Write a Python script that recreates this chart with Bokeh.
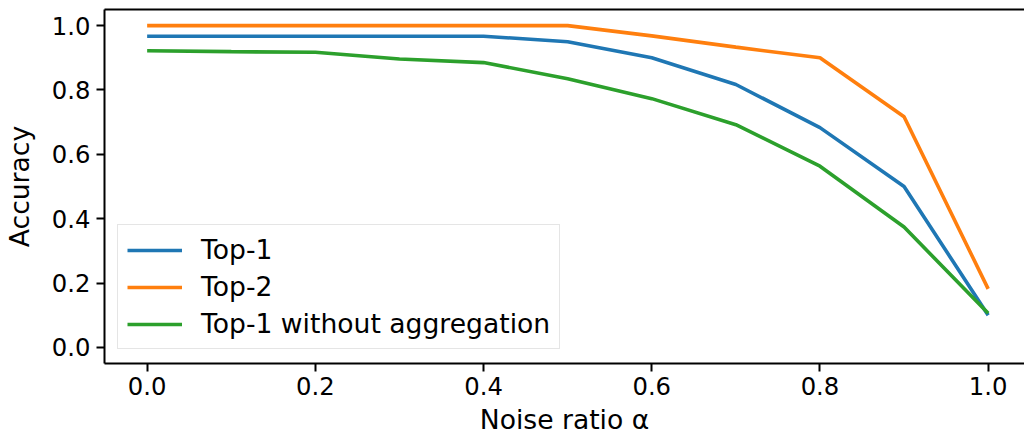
from bokeh.plotting import figure
from bokeh.models import LinearAxis, FixedTicker, Legend, LegendItem, Range1d
from bokeh.embed import file_html
from bokeh.resources import INLINE

# ---- data ----
noise_ratio = [0.0, 0.1, 0.2, 0.3, 0.4, 0.5, 0.6, 0.7, 0.8, 0.9, 1.0]
top1 = [0.967, 0.967, 0.967, 0.967, 0.967, 0.950, 0.900, 0.817, 0.683, 0.500, 0.100]
top2 = [1.000, 1.000, 1.000, 1.000, 1.000, 1.000, 0.968, 0.933, 0.900, 0.717, 0.182]
top1_no_agg = [0.922, 0.919, 0.917, 0.896, 0.885, 0.835, 0.773, 0.692, 0.563, 0.374, 0.106]

series_names = ["Top-1", "Top-2", "Top-1 without aggregation"]
series_colors = ["#1f77b4", "#ff7f0e", "#2ca02c"]

x_ticks = [0.0, 0.2, 0.4, 0.6, 0.8, 1.0]
x_tick_labels = ["0.0", "0.2", "0.4", "0.6", "0.8", "1.0"]
y_ticks = [0.0, 0.2, 0.4, 0.6, 0.8, 1.0]
y_tick_labels = ["0.0", "0.2", "0.4", "0.6", "0.8", "1.0"]
x_label_text = "Noise ratio \u03b1"
y_label_text = "Accuracy"

FONT = "DejaVu Sans"
TICK_FS = "24.3px"
LABEL_FS = "26.6px"

p = figure(width=1024, height=437, output_backend="svg", toolbar_location=None,
           x_range=Range1d(-0.0507, 1.0432), y_range=Range1d(-0.05, 1.05),
           x_axis_label=x_label_text, y_axis_label=y_label_text)
p.min_border_left = 103
p.min_border_right = 0
p.min_border_top = 9
p.min_border_bottom = 74
p.outline_line_color = None
p.background_fill_color = "white"
p.border_fill_color = "white"
p.xgrid.visible = False
p.ygrid.visible = False

renderers = []
for ys, name, col in zip([top1, top2, top1_no_agg], series_names, series_colors):
    r = p.line(noise_ratio, ys, line_color=col, line_width=3.6)
    renderers.append(r)

for ax, ticks, labels in [(p.xaxis[0], x_ticks, x_tick_labels), (p.yaxis[0], y_ticks, y_tick_labels)]:
    ax.ticker = FixedTicker(ticks=ticks)
    ax.major_label_overrides = {t: l for t, l in zip(ticks, labels)}
    ax.minor_tick_line_color = None
    ax.major_tick_in = 0
    ax.major_tick_out = 8
    ax.major_tick_line_width = 2
    ax.major_tick_line_color = "black"
    ax.axis_line_width = 2
    ax.axis_line_color = "black"
    ax.major_label_text_font = FONT
    ax.major_label_text_font_size = TICK_FS
    ax.major_label_text_color = "black"
    ax.axis_label_text_font = FONT
    ax.axis_label_text_font_size = LABEL_FS
    ax.axis_label_text_font_style = "normal"
    ax.axis_label_text_color = "black"
    ax.major_label_standoff = 6

p.yaxis[0].axis_label_standoff = 14
p.xaxis[0].major_label_standoff = 5
p.xaxis[0].axis_label_standoff = 6
p.xaxis[0].axis_label_text_line_height = 0.6

top = LinearAxis(ticker=FixedTicker(ticks=[]), major_tick_out=0, major_tick_in=0,
                 minor_tick_line_color=None, major_label_standoff=0,
                 axis_line_width=2, axis_line_color="black",
                 major_label_text_font_size="0px")
p.add_layout(top, "above")

legend = Legend(items=[LegendItem(label=n, renderers=[r]) for n, r in zip(series_names, renderers)],
                location=(13, 14), label_text_font=FONT, label_text_font_size=LABEL_FS,
                label_text_color="black",
                glyph_width=55, glyph_height=20, label_standoff=19, spacing=6,
                padding=9, margin=0, border_line_color="#cccccc", border_line_width=1.5,
                background_fill_alpha=0.8)
p.add_layout(legend, "center")

open("out.html", "w").write(file_html(p, INLINE))
